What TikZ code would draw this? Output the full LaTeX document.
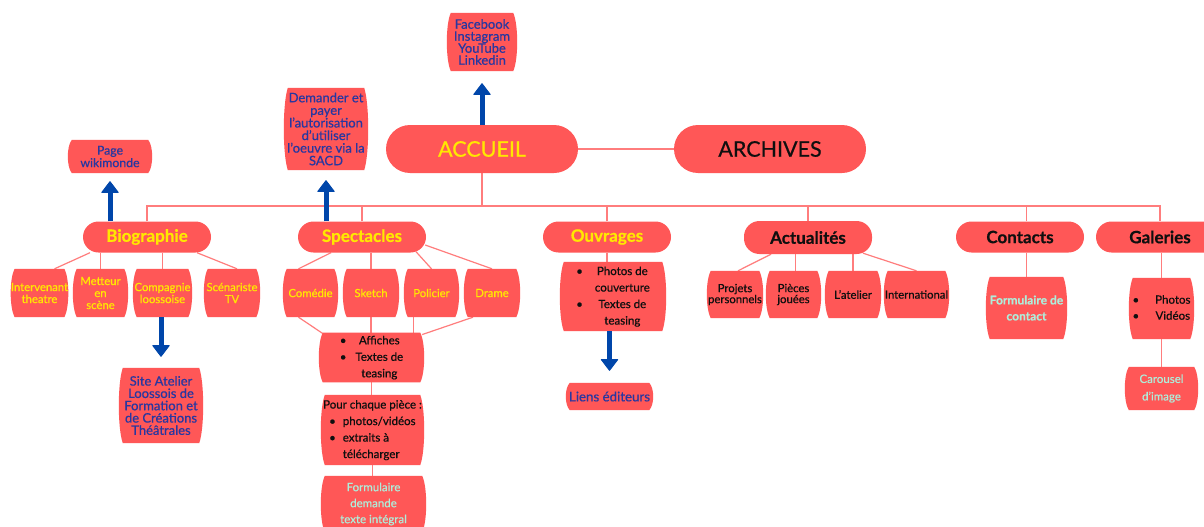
\documentclass[tikz,border=0pt]{standalone}
\usepackage{fontspec}
\setmainfont{Lato}[FakeBold=0.6]
\usetikzlibrary{calc,arrows.meta,backgrounds}
\definecolor{boxred}{RGB}{255,87,87}
\definecolor{linered}{RGB}{255,125,125}
\definecolor{ylw}{RGB}{255,232,0}
\definecolor{navy}{RGB}{40,55,160}
\definecolor{abl}{RGB}{0,70,170}
\definecolor{mint}{RGB}{175,238,218}
\definecolor{ink}{RGB}{15,15,15}
\newcommand\myfs[2]{\fontsize{#1}{#2}\selectfont}
\newcommand\barrel[1]{%
  \fill[boxred] ($(#1.north west)+(4,0)$)
    .. controls ($(#1.north west)!0.2!(#1.south west)+(-1.33,0)$) and ($(#1.north west)!0.8!(#1.south west)+(-1.33,0)$) .. ($(#1.south west)+(4,0)$)
    -- ($(#1.south east)+(-4,0)$)
    .. controls ($(#1.north east)!0.8!(#1.south east)+(1.33,0)$) and ($(#1.north east)!0.2!(#1.south east)+(1.33,0)$) .. ($(#1.north east)+(-4,0)$)
    -- cycle;}
\begin{document}
\begin{tikzpicture}[x=1pt,y=-1pt,
  bigpill/.style={fill=boxred, rounded corners=24pt, minimum width=192pt, minimum height=48pt, inner sep=0pt, font=\myfs{21.5}{24}},
  pill/.style={fill=boxred, rounded corners=15.5pt, minimum width=128pt, minimum height=31pt, inner sep=0pt, font=\bfseries\myfs{17}{18}},
  bx/.style={inner sep=0pt, align=center},
  sz/.style 2 args={minimum width=#1pt, minimum height=#2pt},
  tb/.style={text=navy, font=\myfs{13}{12.3}},
  ty/.style={text=ylw, font=\myfs{11.3}{12}},
  tk/.style={text=ink, font=\myfs{11.3}{11.5}},
  tl/.style={text=ink, font=\myfs{11.5}{16.5}},
  tm/.style={text=mint, font=\myfs{11.5}{16.5}},
  conn/.style={draw=linered, line width=1.2pt},
  barrow/.style={draw=abl, line width=5pt, -{Triangle[width=18pt,length=12pt,line width=1pt,round]}}
]
\useasboundingbox (0,0) rectangle (1204,527);
\clip (0,0) rectangle (1204,527);

% main pills
\node[bigpill, text=ylw] (accueil) at (482,149) {ACCUEIL};
\node[bigpill, text=ink] (archives) at (770,149) {ARCHIVES};

\node[pill, text=ylw] (bio) at (147,237) {Biographie};
\node[pill, text=ylw] (spect) at (362,237) {Spectacles};
\node[pill, text=ylw] (ouvr) at (607,237) {Ouvrages};
\node[pill, text=ink, minimum height=33pt] (actu) at (808,237.5) {Actualités};
\node[pill, text=ink] (contacts) at (1020,237) {Contacts};
\node[pill, text=ink] (galeries) at (1160,237) {Galeries};

% boxes
\node[bx,sz={70}{58},tb,font=\myfs{13}{12}] (fb) at (482,42) {Facebook\\Instagram\\YouTube\\Linkedin};
\node[bx,sz={84}{82},tb,font=\myfs{13}{12.6}] (sacd) at (326,129) {Demander et\\payer\\l’autorisation\\d’utiliser\\l’oeuvre via la\\SACD};
\node[bx,sz={84}{33},tb,font=\myfs{12.3}{12.5}] (wiki) at (110,156.5) {Page\\wikimonde};

\node[bx,sz={57}{48},ty] (inter) at (39.5,293) {Intervenant\\theatre};
\node[bx,sz={55}{48},ty] (mett) at (100.5,293) {Metteur\\en\\scène};
\node[bx,sz={59}{48},ty] (comp) at (162.5,293) {Compagnie\\loossoise};
\node[bx,sz={56}{48},ty] (scen) at (232,293) {Scénariste\\TV};

\node[bx,sz={55}{48},ty] (come) at (310.5,293) {Comédie};
\node[bx,sz={56}{48},ty] (sket) at (371,293) {Sketch};
\node[bx,sz={55}{48},ty] (poli) at (431.5,293) {Policier};
\node[bx,sz={56}{48},ty] (dram) at (492,293) {Drame};

\node[bx,sz={105}{45},tl] (affi) at (371.5,357.5) {\begin{tabular}{@{}c@{\hspace{9pt}}c@{}}\textbullet & Affiches\\ \textbullet & Textes de\\ & teasing\end{tabular}};
\node[bx,sz={103}{70},tl] (pour) at (372.5,430) {\begin{tabular}{@{\hspace{6pt}}l@{\hspace{7pt}}l@{}}\multicolumn{2}{@{}c@{}}{Pour chaque pièce :}\\ \textbullet & photos/vidéos\\ \textbullet & extraits à\\ & télécharger\end{tabular}};
\node[bx,sz={105}{56},tm,font=\myfs{11.5}{16}] (form) at (373.5,504) {Formulaire\\demande\\texte intégral};

\node[bx,sz={84}{75},tb,font=\myfs{13}{12.3}] (site) at (161,405.5) {Site Atelier\\Loossois de\\Formation et\\de Créations\\Théâtrales};

\node[bx,sz={106}{69},tl] (ouvc) at (613,296.5) {\begin{tabular}{@{}c@{\hspace{12pt}}c@{}}\textbullet & Photos de\\ & couverture\\ \textbullet & Textes de\\ & teasing\end{tabular}};
\node[bx,sz={87}{27},tb,font=\myfs{13.3}{14}] (liens) at (609.5,396.5) {Liens éditeurs};

\node[bx,sz={56}{47},tk,font=\myfs{11.3}{11}] (proj) at (735,294.5) {Projets\\personnels};
\node[bx,sz={55}{47},tk,font=\myfs{11.3}{11}] (piec) at (793.5,294.5) {Pièces\\jouées};
\node[bx,sz={56}{47},tk] (atel) at (853,294.5) {L'atelier};
\node[bx,sz={65}{47},tk] (inte) at (916.5,294.5) {International};

\node[bx,sz={81}{62},tm,font=\bfseries\myfs{12}{16}] (fcont) at (1026.5,308) {Formulaire de\\contact};
\node[bx,sz={65}{61},tl,font=\myfs{11.5}{16}] (gal2) at (1161.5,308.5) {\begin{tabular}{@{}c@{\hspace{16pt}}c@{}}\textbullet & Photos\\ \textbullet & Vidéos\end{tabular}};
\node[bx,sz={73}{43},tm,font=\myfs{11.5}{17.5}] (caro) at (1161.5,388.5) {Carousel\\d'image};

\coordinate (bus) at (0,206);

% blue arrows
\draw[barrow, shorten >=12pt] (accueil.north) -- (fb.south);
\draw[barrow, shorten >=10pt] (spect.north -| sacd.south) -- (sacd.south);
\draw[barrow, shorten >=8pt] (bio.north -| wiki.south) -- (wiki.south);
\draw[barrow, shorten >=11pt] (site.north |- comp.south) -- (site.north);
\draw[barrow, shorten >=12pt] (liens.north |- ouvc.south) -- (liens.north);

\begin{scope}[on background layer]
\fill[white] (0,0) rectangle (1204,527);
\clip (0,0) rectangle (1204,527);
% tree
\draw[conn] (accueil.east) -- (archives.west);
\draw[conn] (bio.north) |- (galeries.north |- bus) -- (galeries.north);
\draw[conn] (accueil.south) -- (accueil.south |- bus);
\draw[conn] (spect.north) -- (spect.north |- bus);
\draw[conn] (ouvr.north) -- (ouvr.north |- bus);
\draw[conn] (actu.north) -- (actu.north |- bus);
\draw[conn] (fcont.north |- contacts.north) -- (fcont.north |- bus);
% biographie
\draw[conn] ($(bio.south)+(-57,0)$) -- ($(inter.north)+(15,0)$);
\draw[conn] (bio.south -| mett.north) -- (mett.north);
\draw[conn] (bio.south -| comp.north) -- (comp.north);
\draw[conn] ($(bio.south)+(50,0)$) -- ($(scen.north)+(5,0)$);
% spectacles
\draw[conn] ($(spect.south)+(-31,0)$) -- ($(come.north)+(-12,0)$);
\draw[conn] (spect.south -| sket.north) -- (sket.north);
\draw[conn] ($(spect.south)+(54,-1)$) -- (poli.north);
\draw[conn] ($(spect.east)+(-1,8)$) -- (dram.north);
\draw[conn] ($(come.south)+(-12,0)$) -- ($(affi.north west)+(4,1)$);
\draw[conn] (sket.south) -- (sket.south |- affi.north);
\draw[conn] ($(poli.south)+(-18,0)$) -- ($(poli.south |- affi.north)+(-18,0)$);
\draw[conn] ($(dram.south)+(-19,0)$) -- ($(affi.north east)+(-2,2)$);
\draw[conn] (affi.south) -- (affi.south |- pour.north);
\draw[conn] (pour.south) -- (pour.south |- form.north);
% ouvrages
\draw[conn] (ouvr.south) -- (ouvr.south |- ouvc.north);
% actualites
\draw[conn] ($(actu.south)+(-37,0)$) -- ($(proj.north)+(3,0)$);
\draw[conn] ($(piec.north |- actu.south)+(2,0)$) -- ($(piec.north)+(2,0)$);
\draw[conn] (atel.north |- actu.south) -- (atel.north);
\draw[conn] ($(actu.south)+(55,-1)$) -- (inte.north);
% contacts, galeries
\draw[conn] (fcont.north |- contacts.south) -- (fcont.north);
\draw[conn] (gal2.north |- galeries.south) -- (gal2.north);
\draw[conn] (gal2.south) -- (caro.north);
% box fills
\foreach \n in {fb,sacd,wiki,inter,mett,comp,scen,come,sket,poli,dram,affi,pour,form,site,ouvc,liens,proj,piec,atel,inte,fcont,gal2,caro} {\barrel{\n}}
\end{scope}
\end{tikzpicture}
\end{document}
